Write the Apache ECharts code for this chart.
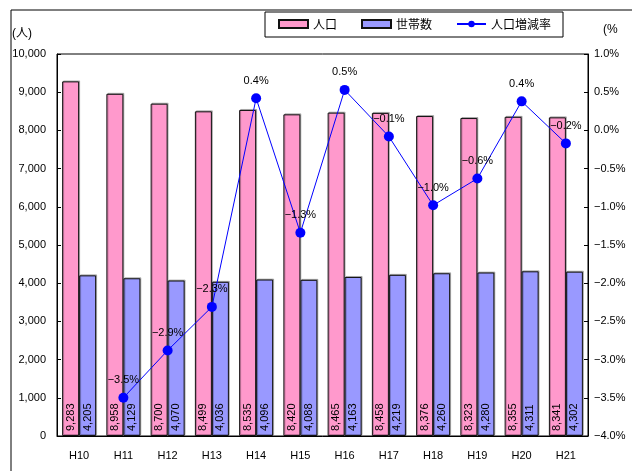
<!DOCTYPE html>
<html>
<head>
<meta charset="utf-8">
<script src="https://cdn.jsdelivr.net/npm/echarts@6/dist/echarts.min.js"></script>
<style>
  html, body { margin: 0; padding: 0; background: #fff; }
  #chart { width: 632px; height: 471px; }
</style>
</head>
<body>
<div id="chart"></div>
<script>
// 年度（カテゴリ）
const years = ['H10', 'H11', 'H12', 'H13', 'H14', 'H15', 'H16', 'H17', 'H18', 'H19', 'H20', 'H21'];
// 人口
const population = [9283, 8958, 8700, 8499, 8535, 8420, 8465, 8458, 8376, 8323, 8355, 8341];
// 世帯数
const households = [4205, 4129, 4070, 4036, 4096, 4088, 4163, 4219, 4260, 4280, 4311, 4302];
// 人口増減率 (%) — H10は値なし
const changeRate = ['-', -3.50, -2.88, -2.31, 0.42, -1.34, 0.53, -0.08, -0.98, -0.63, 0.38, -0.17];

const FONT = '"Liberation Sans", "Noto Sans CJK JP", sans-serif';
const MINUS = '\u2212';

function pct(v) {
    const s = Number(v).toFixed(1) + '%';
    return s.charAt(0) === '-' ? MINUS + s.slice(1) : s;
}

const chart = echarts.init(document.getElementById('chart'));

const barLabel = {
    show: true,
    position: 'insideBottom',
    rotate: 90,
    align: 'left',
    verticalAlign: 'middle',
    distance: 5,
    color: '#000',
    fontSize: 11,
    fontFamily: FONT,
    formatter: p => p.value.toLocaleString('en-US')
};

const barShadow = { shadowColor: 'rgba(0,0,0,0.25)', shadowOffsetX: 1, shadowOffsetY: -1, shadowBlur: 0 };

chart.setOption({
    animation: false,
    textStyle: { fontFamily: FONT },
    graphic: [
        { type: 'rect', shape: { x: 11, y: 10, width: 700, height: 600 }, style: { fill: 'none', stroke: '#000', lineWidth: 1 }, z: -1 },
        { type: 'text', left: 12, top: 28, style: { text: '(人)', fontSize: 12, fontFamily: FONT, fill: '#000' } },
        { type: 'text', left: 603, top: 24, style: { text: '(%', fontSize: 12, fontFamily: FONT, fill: '#000' } }
    ],
    legend: {
        left: 265,
        top: 12,
        width: 292,
        padding: [6, 12, 7, 13],
        itemGap: 24,
        itemWidth: 29,
        itemHeight: 8,
        borderColor: '#000',
        borderWidth: 1,
        textStyle: { fontSize: 12, color: '#000', fontFamily: '"Noto Sans CJK JP", sans-serif' },
        data: [
            { name: '人口', icon: 'rect' },
            { name: '世帯数', icon: 'rect' },
            { name: '人口増減率' }
        ]
    },
    grid: {
        left: 57, right: 44, top: 54, bottom: 35,
        show: true, borderColor: '#000', borderWidth: 1
    },
    xAxis: {
        type: 'category',
        data: years,
        axisLine: { lineStyle: { color: '#000' } },
        axisTick: { inside: true, length: 4, lineStyle: { color: '#000' } },
        axisLabel: { color: '#000', fontSize: 11, margin: 14 }
    },
    yAxis: [
        {
            type: 'value', min: 0, max: 10000, interval: 1000,
            splitLine: { show: false },
            axisLine: { show: true, lineStyle: { color: '#000' } },
            axisTick: { show: true, inside: true, length: 4, lineStyle: { color: '#000' } },
            axisLabel: { color: '#000', fontSize: 11, margin: 11, formatter: v => v.toLocaleString('en-US') }
        },
        {
            type: 'value', min: -4, max: 1, interval: 0.5,
            splitLine: { show: false },
            axisLine: { show: true, lineStyle: { color: '#000' } },
            axisTick: { show: true, inside: true, length: 4, lineStyle: { color: '#000' } },
            axisLabel: { color: '#000', fontSize: 11, margin: 6, formatter: v => pct(v) }
        }
    ],
    series: [
        {
            name: '人口', type: 'bar', data: population,
            barWidth: 17, barGap: '0%',
            itemStyle: Object.assign({ color: '#FF99CC', borderColor: '#111', borderWidth: 1 }, barShadow),
            label: barLabel
        },
        {
            name: '世帯数', type: 'bar', data: households,
            barWidth: 17,
            itemStyle: Object.assign({ color: '#9999FF', borderColor: '#111', borderWidth: 1 }, barShadow),
            label: barLabel
        },
        {
            name: '人口増減率', type: 'line', yAxisIndex: 1, data: changeRate,
            symbol: 'circle', symbolSize: 10,
            lineStyle: { color: '#0000FF', width: 1 },
            itemStyle: { color: '#0000FF' },
            label: { show: true, position: 'top', distance: 7, color: '#000', fontSize: 11, formatter: p => pct(p.value) },
            z: 5
        }
    ]
});
</script>
</body>
</html>
